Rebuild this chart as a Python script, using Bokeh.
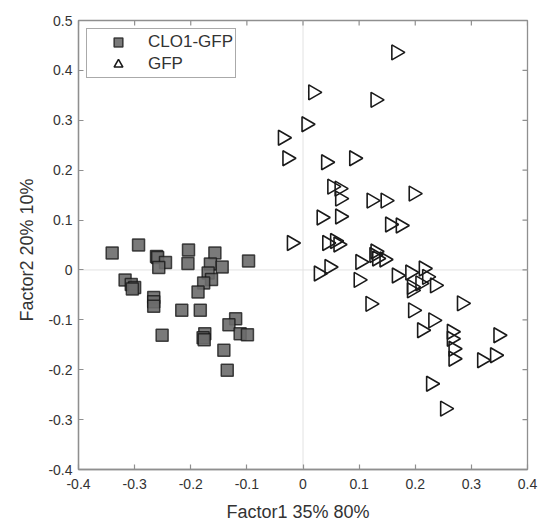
import numpy as np
from bokeh.plotting import figure
from bokeh.models import (Range1d, FixedTicker, Span, Legend, LegendItem, ColumnDataSource)
from bokeh.embed import file_html
from bokeh.resources import INLINE

# ---- data ----
clo1_x = [-0.340, -0.293, -0.261, -0.259, -0.245, -0.257, -0.204, -0.205, -0.157, -0.165,
          -0.144, -0.097, -0.169, -0.163, -0.177, -0.187, -0.317, -0.306, -0.300, -0.304,
          -0.266, -0.266, -0.266, -0.251, -0.216, -0.183, -0.120, -0.132, -0.112, -0.099,
          -0.175, -0.178, -0.176, -0.141, -0.135]
clo1_y = [0.034, 0.050, 0.027, 0.025, 0.015, 0.005, 0.040, 0.013, 0.034, 0.012,
          0.006, 0.018, -0.006, -0.019, -0.026, -0.044, -0.020, -0.029, -0.035, -0.038,
          -0.055, -0.064, -0.073, -0.131, -0.081, -0.081, -0.098, -0.110, -0.128, -0.130,
          -0.128, -0.136, -0.140, -0.161, -0.201]

gfp_x = [0.166, 0.018, 0.129, 0.006, -0.036, -0.028, 0.041, 0.091, 0.052, 0.065,
         0.066, 0.122, 0.147, 0.197, 0.033, 0.066, 0.155, 0.174, -0.020, 0.043,
         0.057, 0.063, 0.028, 0.047, 0.102, 0.099, 0.129, 0.132, 0.145, 0.127,
         0.120, 0.167, 0.191, 0.215, 0.194, 0.194, 0.209, 0.221, 0.235, 0.196,
         0.283, 0.212, 0.232, 0.265, 0.265, 0.268, 0.268, 0.348, 0.319, 0.342,
         0.228, 0.253]
gfp_y = [0.436, 0.356, 0.341, 0.292, 0.265, 0.224, 0.216, 0.224, 0.167, 0.163,
         0.143, 0.139, 0.139, 0.153, 0.105, 0.107, 0.091, 0.089, 0.054, 0.054,
         0.058, 0.051, -0.007, 0.006, 0.016, -0.020, 0.037, 0.023, 0.021, 0.030,
         -0.068, -0.011, -0.005, 0.003, -0.034, -0.041, -0.027, -0.014, -0.031, -0.081,
         -0.067, -0.121, -0.101, -0.124, -0.138, -0.158, -0.178, -0.131, -0.181, -0.171,
         -0.228, -0.278]

x_ticks = [-0.4, -0.3, -0.2, -0.1, 0.0, 0.1, 0.2, 0.3, 0.4]
x_tick_labels = ["-0.4", "-0.3", "-0.2", "-0.1", "0", "0.1", "0.2", "0.3", "0.4"]
y_ticks = [-0.4, -0.3, -0.2, -0.1, 0.0, 0.1, 0.2, 0.3, 0.4, 0.5]
y_tick_labels = ["-0.4", "-0.3", "-0.2", "-0.1", "0", "0.1", "0.2", "0.3", "0.4", "0.5"]

series_names = ["CLO1-GFP", "GFP"]
x_title = "Factor1  35%  80%"
y_title = "Factor2  20%  10%"

FONT = "Liberation Sans"
AX_COLOR = "#8f8f8f"
TXT_COLOR = "#333333"

X0, X1 = x_ticks[0], x_ticks[-1]
Y0, Y1 = y_ticks[0], y_ticks[-1]

p = figure(width=538, height=525, output_backend="svg", toolbar_location=None,
           x_range=Range1d(X0, X1), y_range=Range1d(Y0, Y1),
           min_border_left=78, min_border_right=11, min_border_top=20, min_border_bottom=56,
           x_axis_label=x_title, y_axis_label=y_title)
p.xgrid.visible = False
p.ygrid.visible = False
p.outline_line_color = AX_COLOR
p.outline_line_width = 1.3
p.outline_line_alpha = 1.0
p.background_fill_color = "white"
p.border_fill_color = "white"

# zero lines
p.add_layout(Span(location=0, dimension="height", line_color="#e2e2e2", line_width=1, level="underlay"))
p.add_layout(Span(location=0, dimension="width", line_color="#e2e2e2", line_width=1, level="underlay"))

bottom_ax = p.below[0]
left_ax = p.left[0]

for ax, ticks, labels, lab_standoff, title_standoff in [
        (bottom_ax, x_ticks, x_tick_labels, 9, 10),
        (left_ax, y_ticks, y_tick_labels, 6, 8)]:
    ax.ticker = FixedTicker(ticks=ticks)
    ax.major_label_overrides = {t: l for t, l in zip(ticks, labels)}
    ax.axis_line_color = AX_COLOR
    ax.axis_line_width = 1.3
    ax.major_tick_line_color = AX_COLOR
    ax.major_tick_line_width = 1.2
    ax.major_tick_in = 5
    ax.major_tick_out = 0
    ax.minor_tick_line_color = None
    ax.major_label_text_font = FONT
    ax.major_label_text_font_size = "14px"
    ax.major_label_text_color = TXT_COLOR
    ax.major_label_standoff = lab_standoff
    ax.axis_label_text_font = FONT
    ax.axis_label_text_font_size = "18px"
    ax.axis_label_text_font_style = "normal"
    ax.axis_label_text_color = TXT_COLOR
    ax.axis_label_standoff = title_standoff

# inward ticks on the top and right edges of the box (clipped to the frame)
top_src = ColumnDataSource(dict(x=x_ticks, y=[Y1] * len(x_ticks)))
right_src = ColumnDataSource(dict(x=[X1] * len(y_ticks), y=y_ticks))
p.scatter(x="x", y="y", source=top_src, marker="dash", angle=np.pi / 2, size=10,
          line_color=AX_COLOR, line_width=1.2)
p.scatter(x="x", y="y", source=right_src, marker="dash", size=10,
          line_color=AX_COLOR, line_width=1.2)

src_clo = ColumnDataSource(dict(x=clo1_x, y=clo1_y))
src_gfp = ColumnDataSource(dict(x=gfp_x, y=gfp_y))

sq = p.scatter(x="x", y="y", source=src_clo, marker="square", size=12,
               fill_color="#6b6b6b", fill_alpha=0.9, line_color="#111111",
               line_alpha=0.75, line_width=1.5)
tri = p.scatter(x="x", y="y", source=src_gfp, marker="triangle", angle=-np.pi / 2, size=15,
                fill_color=None, line_color="#1a1a1a", line_width=1.6)

legend = Legend(items=[LegendItem(label=series_names[0], renderers=[sq]),
                       LegendItem(label=series_names[1], renderers=[tri])],
                location="top_left", margin=8, padding=2, spacing=0,
                glyph_width=58, glyph_height=22, label_height=22, label_standoff=1,
                label_text_font=FONT, label_text_font_size="17px", label_text_color=TXT_COLOR,
                border_line_color="#555555", border_line_width=1,
                background_fill_color="white", background_fill_alpha=1.0)
p.add_layout(legend)

open("out.html", "w").write(file_html(p, INLINE))
